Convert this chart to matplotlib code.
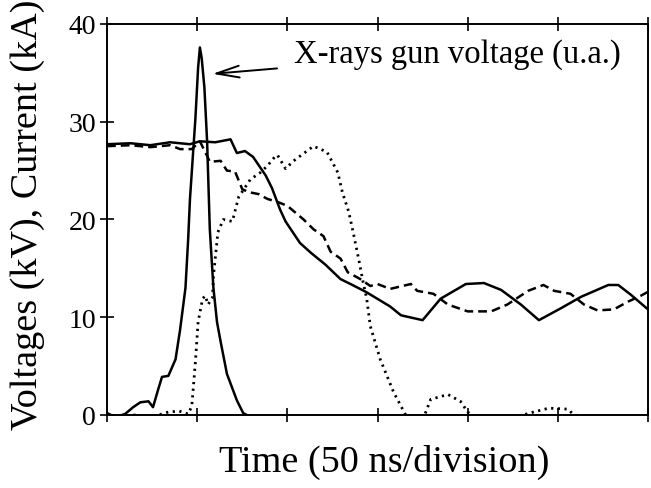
import matplotlib
matplotlib.use("Agg")
import matplotlib.pyplot as plt

plt.rcParams['font.family'] = ['Liberation Serif', 'DejaVu Serif']

# time in divisions (50 ns/division)
current_x = [0, 0.26, 0.48, 0.70, 0.92, 1.03, 1.2, 1.37, 1.44, 1.53, 1.62, 1.76, 1.83, 1.92, 1.98,
             2.14, 2.26, 2.42, 2.59, 2.70, 2.87, 3.14, 3.26, 3.50, 3.70, 3.98, 4.18, 4.37, 4.59, 4.79,
             5.03, 5.26, 5.56, 5.67, 5.81, 6.0]
current_y = [27.7, 27.8, 27.6, 27.9, 27.7, 28.0, 27.9, 28.2, 26.8, 27.0, 26.4, 24.5, 23.2, 21.0, 19.8,
             17.6, 16.6, 15.4, 13.9, 13.4, 12.6, 11.1, 10.2, 9.7, 11.9, 13.4, 13.5, 12.8, 11.3, 9.7,
             10.9, 12.1, 13.3, 13.3, 12.3, 10.8]

voltage_x = [0, 0.26, 0.48, 0.70, 0.81, 0.94, 1.03, 1.11, 1.14, 1.26, 1.33, 1.42, 1.5, 1.57, 1.68,
             1.78, 1.89, 2.0, 2.18, 2.29, 2.4, 2.48, 2.59, 2.67, 2.81, 2.92, 3.0, 3.14, 3.37, 3.44,
             3.62, 3.78, 4.0, 4.26, 4.44, 4.67, 4.84, 4.96, 5.14, 5.29, 5.44, 5.62, 5.78, 5.92, 6.0]
voltage_y = [27.5, 27.6, 27.4, 27.6, 27.2, 27.2, 28.0, 26.5, 25.9, 26.0, 25.0, 24.9, 23.1, 22.8, 22.6,
             22.1, 21.8, 21.4, 20.0, 19.0, 18.3, 16.7, 16.0, 14.6, 13.9, 13.2, 13.4, 12.9, 13.4, 12.7,
             12.4, 11.3, 10.6, 10.6, 11.3, 12.7, 13.3, 12.7, 12.4, 11.3, 10.7, 10.8, 11.6, 12.2, 12.6]

xray_x = [0, 0.09, 0.2, 0.29, 0.37, 0.46, 0.51, 0.57, 0.61, 0.68, 0.76, 0.81, 0.87, 0.9, 0.92, 0.98,
          1.01, 1.03, 1.05, 1.08, 1.11, 1.14, 1.18, 1.22, 1.26, 1.33, 1.44, 1.51, 1.55]
xray_y = [0.2, -0.2, 0.1, 0.8, 1.3, 1.4, 0.8, 2.7, 3.9, 4.0, 5.7, 8.7, 13.0, 18.0, 22.1, 30.3,
          35.5, 37.6, 36.5, 33.5, 28.0, 19.0, 13.0, 9.5, 7.5, 4.2, 1.5, 0.2, 0.0]

load_x = [0, 0.3, 0.5, 0.68, 0.8, 0.9, 0.94, 0.98, 1.01, 1.06, 1.09, 1.12, 1.17, 1.18, 1.23, 1.29,
          1.39, 1.46, 1.59, 1.70, 1.78, 1.86, 1.89, 1.98, 2.07, 2.29, 2.44, 2.56, 2.61, 2.68, 2.73,
          2.79, 2.84, 2.88, 2.92, 3.03, 3.18, 3.33, 3.51, 3.59, 3.78, 3.92, 4.0, 4.1, 4.5, 4.73,
          4.9, 5.11, 5.18, 5.4, 6.0]
load_y = [-0.3, 0.0, -0.2, 0.3, 0.4, 0.1, 0.9, 5.4, 9.5, 11.9, 12.2, 11.3, 12.0, 14.2, 18.7, 20.0,
          19.8, 22.3, 24.1, 24.8, 25.5, 26.4, 26.6, 25.2, 26.0, 27.5, 26.9, 24.8, 22.8, 20.8, 18.7,
          16.0, 13.6, 11.9, 9.1, 5.7, 2.3, -0.3, -0.3, 1.6, 2.1, 1.4, 0.3, -0.3, -0.3, 0.3,
          0.7, 0.6, 0.0, -0.3, -0.3]

fig = plt.figure(figsize=(6.51, 4.89), dpi=100)
ax = fig.add_axes([0.1644, 0.1493, 0.831, 0.7996])

ax.plot(current_x, current_y, color='black', lw=1.8, ls='-')
ax.plot(voltage_x, voltage_y, color='black', lw=1.8, ls=(0, (3.5, 2)))
ax.plot(xray_x, xray_y, color='black', lw=1.8, ls='-')
ax.plot(load_x, load_y, color='black', lw=2.0, ls=(0, (0.8, 1.6)))

ax.set_xlim(0, 6)
ax.set_ylim(0, 40)
ax.set_xticks(range(0, 7))
ax.set_xticklabels([])
ax.set_yticks([0, 10, 20, 30, 40])
ax.tick_params(axis='x', direction='inout', length=10, width=1.2, top=True, bottom=True)
ax.tick_params(axis='y', direction='inout', length=10, width=1.2, labelsize=20, pad=3)
for s in ax.spines.values():
    s.set_linewidth(1.4)

ax.annotate("X-rays gun voltage (u.a.)", xy=(1.17, 34.9), xytext=(2.07, 37.0),
            fontsize=23.5, va='center', ha='left',
            arrowprops=dict(arrowstyle='->,head_length=0.7,head_width=0.18', color='black',
                            lw=1.4, shrinkA=10, shrinkB=0))

ax.set_xlabel("Time (50 ns/division)", fontsize=27.5)
ax.xaxis.set_label_coords(0.512, -0.075)
ax.set_ylabel("Voltages (kV), Current (kA)", fontsize=27.5)
ax.yaxis.set_label_coords(-0.115, 0.514)

fig.savefig("out.png", dpi=100)
